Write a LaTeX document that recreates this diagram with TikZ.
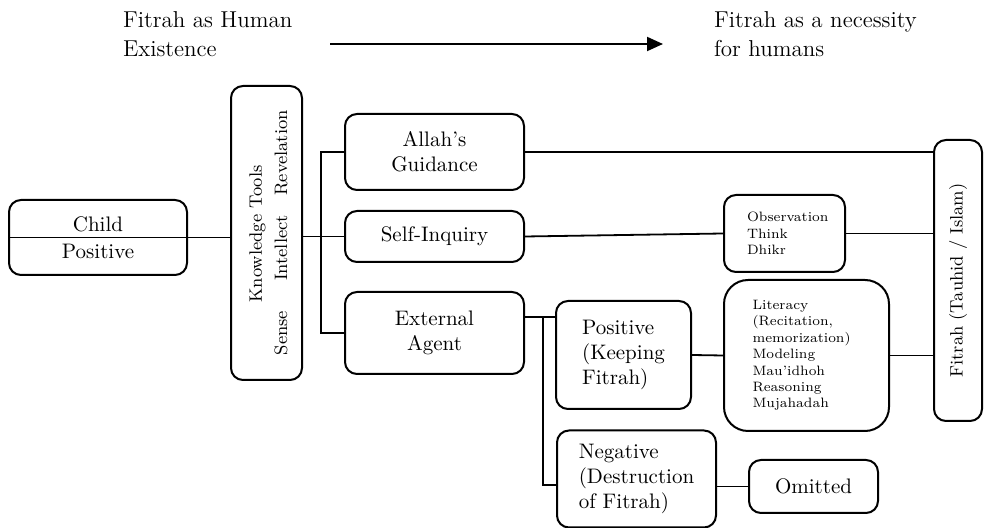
\documentclass[tikz,border=0pt]{standalone}
\usetikzlibrary{arrows.meta}
\begin{document}
\begin{tikzpicture}[x=0.5pt,y=-0.5pt,
  box/.style={draw,line width=1pt,rounded corners=6pt,align=center,inner sep=0pt,
    font=\fontsize{10.5}{12.5}\selectfont},
  small/.style={font=\fontsize{6.8}{8.2}\selectfont,align=left},
  vert/.style={rotate=90,font=\fontsize{9}{11}\selectfont},
  head/.style={align=left,anchor=west,font=\fontsize{11.5}{14.5}\selectfont},
  link/.style={line width=0.9pt}]
\useasboundingbox (0,0) rectangle (985,528);
% top line
\node[head] (human) at (116,34.5) {Fitrah as Human\\Existence};
\node[head] (need) at (707,34.5) {Fitrah as a necessity\\for humans};
\coordinate (a1) at (330,44);
\coordinate (a2) at (663,44);
\draw[line width=1pt,-{Triangle[length=8pt,width=7pt]}] (a1) -- (a2);
% boxes
\node[box,minimum width=89pt,minimum height=37.5pt] (child) at (98,237.5) {Child\\[1pt]Positive};
\node[box,minimum width=35.5pt,minimum height=147pt] (tools) at (266.5,233) {};
\node[vert] at (257.5,234) {Knowledge Tools};
\node[vert] at (281,153) {Revelation};
\node[vert] at (281,248) {Intellect};
\node[vert] at (281,333) {Sense};
\node[box,minimum width=89.5pt,minimum height=38pt] (allah) at (434.5,152) {Allah's\\Guidance};
\node[box,minimum width=89.5pt,minimum height=25.5pt] (self) at (434.5,236.5) {Self-Inquiry};
\node[box,minimum width=89.5pt,minimum height=41pt] (ext) at (434.5,333) {External\\Agent};
\node[box,small,minimum width=60.5pt,minimum height=38.5pt,text width=37.5pt] (obs) at (784.5,233.5)
  {Observation\\Think\\Dhikr};
\node[box,align=left,minimum width=67.5pt,minimum height=54pt] (pos) at (623.5,355)
  {Positive\\(Keeping\\Fitrah)};
\node[box,small,rounded corners=12pt,minimum width=82.5pt,minimum height=75.5pt,text width=54pt] (lit) at (806.5,355.5)
  {Literacy\\(Recitation,\\memorization)\\Modeling\\Mau'idhoh\\Reasoning\\Mujahadah};
\node[box,align=left,minimum width=79.5pt,minimum height=48.5pt] (neg) at (636.5,479)
  {Negative\\(Destruction\\of Fitrah)};
\node[box,minimum width=64.5pt,minimum height=26.5pt] (omit) at (813.5,486.5) {Omitted};
\node[box,minimum width=24pt,minimum height=140.5pt] (fitrah) at (958,280.5) {};
\node[vert] at (fitrah.center) {Fitrah (Tauhid / Islam)};
% connectors
\draw[link] (child.west) -- (child.west -| tools.west);
\draw[link] (self.west -| tools.east) -- (self.west);
\draw[link] (allah.west) -- ++(-23,0) |- (ext.west);
\draw[link] (allah.east) -- (allah.east -| fitrah.west);
\draw[link] (self.east) -- (obs.west);
\draw[link] (obs.east) -- (obs.east -| fitrah.west);
\coordinate (eo) at ([yshift=8pt]ext.east);
\coordinate (ej) at ([xshift=9pt]eo);
\draw[link] (eo) -- (eo -| pos.west);
\draw[link] (ej) |- ([yshift=-3pt]neg.west);
\draw[link] (pos.east) -- (lit.west);
\draw[link] (lit.east) -- (lit.east -| fitrah.west);
\draw[link] (omit.west -| neg.east) -- (omit.west);
\end{tikzpicture}
\end{document}
